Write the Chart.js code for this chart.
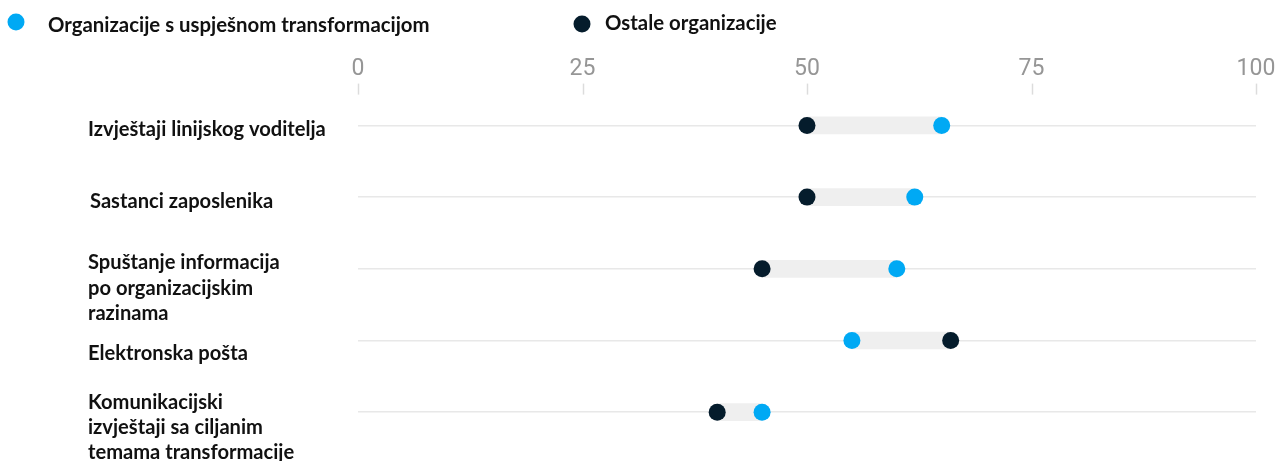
<!DOCTYPE html>
<html><head><meta charset="utf-8">
<script src="https://cdn.jsdelivr.net/npm/chart.js@4/dist/chart.umd.min.js"></script>
<style>html,body{margin:0;padding:0;background:#fff}#wrap{width:1286px;height:461px;position:relative}</style>
</head>
<body><div id="wrap"><canvas id="c" width="1286" height="461"></canvas></div>
<script>
const categories = [
  ["Izvještaji linijskog voditelja"],
  ["Sastanci zaposlenika"],
  ["Spuštanje informacija", "po organizacijskim", "razinama"],
  ["Elektronska pošta"],
  ["Komunikacijski", "izvještaji sa ciljanim", "temama transformacije"]
];
const seriesNames = ["Organizacije s uspješnom transformacijom", "Ostale organizacije"];
const successful = [65, 62, 60, 55, 45];
const others = [50, 50, 45, 66, 40];
const xTicks = [0, 25, 50, 75, 100];

const BLUE = '#00A9F4', DARK = '#051C2C';
const LABEL_FONT = 'Lato';

function fitFont(ctx, text, family, target) {
  ctx.font = 'bold 20px ' + family;
  return 20 * target / ctx.measureText(text).width;
}

const decor = {
  id: 'decor',
  afterDraw(chart) {
    const ctx = chart.ctx, xs = chart.scales.x, ys = chart.scales.y, top = chart.chartArea.top;
    ctx.save();
    // tick marks
    ctx.strokeStyle = '#dcdcdc'; ctx.lineWidth = 1.5;
    xTicks.forEach(v => {
      const px = Math.round(xs.getPixelForValue(v)) + 0.5;
      ctx.beginPath(); ctx.moveTo(px, top - 6); ctx.lineTo(px, top + 5); ctx.stroke();
    });
    // row labels
    const rowSize = fitFont(ctx, categories[0][0], LABEL_FONT, 238);
    ctx.font = 'bold ' + rowSize.toFixed(2) + 'px ' + LABEL_FONT;
    ctx.fillStyle = '#111'; ctx.textBaseline = 'middle'; ctx.textAlign = 'left';
    const offs = [4, 4, -6, 13, -10], lefts = [88, 90, 88, 88, 88];
    categories.forEach((lines, i) => {
      const py = ys.getPixelForValue(i);
      lines.forEach((t, j) => ctx.fillText(t, lefts[i], py + offs[i] + j * 25.3));
    });
    // legend
    const legSize = fitFont(ctx, seriesNames[0], LABEL_FONT, 382);
    ctx.font = 'bold ' + legSize.toFixed(2) + 'px ' + LABEL_FONT;
    ctx.textBaseline = 'alphabetic';
    ctx.fillStyle = BLUE; ctx.beginPath(); ctx.arc(16, 22, 8.5, 0, Math.PI * 2); ctx.fill();
    ctx.fillStyle = DARK; ctx.beginPath(); ctx.arc(582, 24, 8.5, 0, Math.PI * 2); ctx.fill();
    ctx.fillStyle = '#111';
    ctx.fillText(seriesNames[0], 48, 32);
    ctx.fillText(seriesNames[1], 605, 30);
    ctx.restore();
  }
};

new Chart(document.getElementById('c'), {
  type: 'bar',
  data: {
    labels: categories,
    datasets: [
      {
        type: 'scatter', label: seriesNames[1], order: 1,
        data: others.map((v, i) => ({x: v, y: i})),
        backgroundColor: DARK, borderWidth: 0, pointRadius: 8.5, pointHoverRadius: 8.5
      },
      {
        type: 'scatter', label: seriesNames[0], order: 2,
        data: successful.map((v, i) => ({x: v, y: i})),
        backgroundColor: BLUE, borderWidth: 0, pointRadius: 8.5, pointHoverRadius: 8.5
      },
      {
        type: 'bar', label: 'range', order: 3,
        data: successful.map((v, i) => [Math.min(v, others[i]), Math.max(v, others[i])]),
        backgroundColor: '#efefef', borderWidth: 0, borderSkipped: false, barThickness: 17
      }
    ]
  },
  options: {
    indexAxis: 'y',
    responsive: false,
    animation: false,
    devicePixelRatio: 1,
    layout: {padding: {top: 48, bottom: 13, left: 358, right: 30}},
    plugins: {legend: {display: false}, tooltip: {enabled: false}},
    scales: {
      x: {
        type: 'linear', position: 'top', min: 0, max: 100,
        afterBuildTicks: s => { s.ticks = xTicks.map(v => ({value: v})); },
        ticks: {color: '#969696', padding: 7, font: {family: 'Roboto', weight: '400', size: 23}},
        grid: {display: false, drawTicks: false},
        border: {display: false}
      },
      y: {
        type: 'category', offset: true,
        grid: {offset: false, color: '#e8e8e8', lineWidth: 1.5, drawTicks: false},
        ticks: {display: false},
        border: {display: false}
      }
    }
  },
  plugins: [decor]
});
</script>
</body></html>
